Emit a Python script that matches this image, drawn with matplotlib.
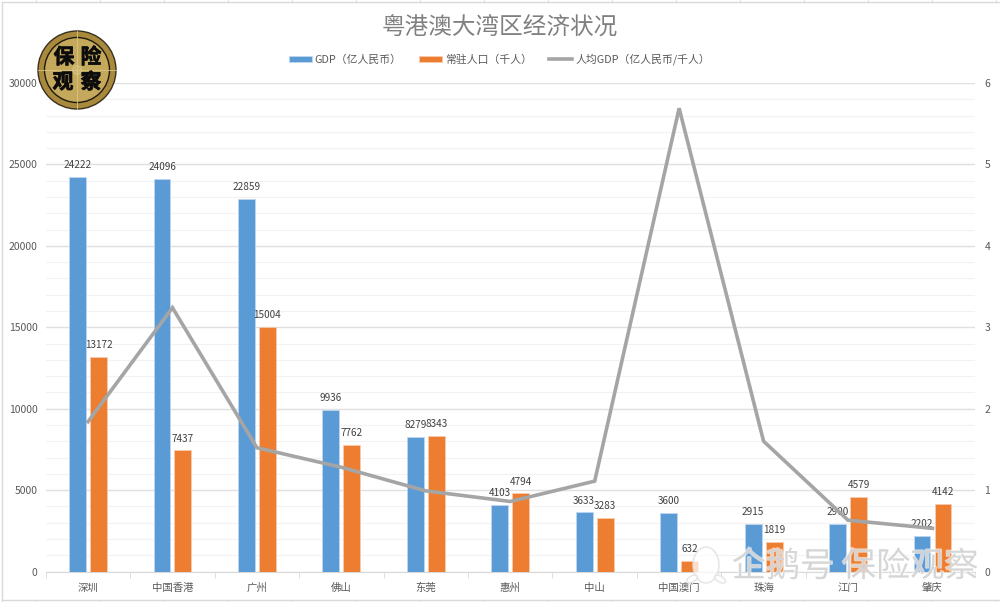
# -*- coding: utf-8 -*-
import numpy as np
import matplotlib
matplotlib.use("Agg")
import matplotlib.pyplot as plt
import matplotlib.patheffects as pe
from matplotlib.patches import Circle, Ellipse

plt.rcParams['font.family'] = ['Noto Sans CJK SC', 'DejaVu Sans']

cities = ['深圳', '中国香港', '广州', '佛山', '东莞', '惠州', '中山', '中国澳门', '珠海', '江门', '肇庆']
gdp = [24222, 24096, 22859, 9936, 8279, 4103, 3633, 3600, 2915, 2900, 2202]
population = [13172, 7437, 15004, 7762, 8343, 4794, 3283, 632, 1819, 4579, 4142]
gdp_per_person = [1.84, 3.24, 1.52, 1.28, 0.99, 0.86, 1.11, 5.69, 1.60, 0.63, 0.53]

W, H = 1000, 602
BLUE = '#5B9BD5'
ORANGE = '#ED7D31'
GREY = '#A5A5A5'
TXT = '#595959'

fig = plt.figure(figsize=(W / 100, H / 100), dpi=100, facecolor='white')

# plot area, in pixels of the picture
left, right, top, bottom = 45.8, 974.7, 83, 571.5
ax = fig.add_axes([left / W, 1 - bottom / H, (right - left) / W, (bottom - top) / H])
x = np.arange(len(cities))
w = 0.2
off = 0.124

ax.bar(x - off, gdp, w, color=BLUE, edgecolor='#BDD7EE', linewidth=0.6, label='GDP（亿人民币）', zorder=3)
ax.bar(x + off, population, w, color=ORANGE, edgecolor='#F8CBAD', linewidth=0.6, label='常驻人口（千人）', zorder=3)

ax.set_xlim(-0.5, len(cities) - 0.5)
ax.set_ylim(0, 30000)
ax.set_yticks(np.arange(0, 30001, 5000))
ax.set_yticks(np.arange(0, 30001, 1000), minor=True)
ax.set_xticks(x)
ax.set_xticklabels(cities)
ax.set_xticks(np.arange(-0.5, len(cities)), minor=True)
ax.grid(axis='y', which='major', color='#E0E0E0', linewidth=1, zorder=0)
ax.grid(axis='y', which='minor', color='#F2F2F2', linewidth=0.8, zorder=0)
ax.tick_params(axis='y', which='both', length=0, labelsize=7.5, labelcolor=TXT, pad=6)
ax.tick_params(axis='x', which='major', length=0, labelsize=7.5, labelcolor=TXT, pad=8)
ax.tick_params(axis='x', which='minor', length=4, color='#D9D9D9', direction='out')
for s in ['top', 'left', 'right']:
    ax.spines[s].set_visible(False)
ax.spines['bottom'].set_color('#D9D9D9')

for i in range(len(cities)):
    ax.text(x[i] - off, gdp[i] + 420, str(gdp[i]), ha='center', va='bottom', fontsize=7.2, color='#404040', zorder=6)
    ax.text(x[i] + off, population[i] + 420, str(population[i]), ha='center', va='bottom', fontsize=7.2, color='#404040', zorder=6)

ax2 = ax.twinx()
line, = ax2.plot(x, gdp_per_person, color=GREY, linewidth=2.6, label='人均GDP（亿人民币/千人）', solid_joinstyle='miter', zorder=5)
ax2.set_ylim(0, 6)
ax2.set_yticks(range(7))
ax2.tick_params(axis='y', length=0, labelsize=7.5, labelcolor=TXT, pad=7)
for s in ax2.spines.values():
    s.set_visible(False)

# keep labels over the line
ax.set_zorder(1)
ax2.set_zorder(2)
ax2.patch.set_visible(False)

handles = ax.get_legend_handles_labels()[0] + [line]
labels = ax.get_legend_handles_labels()[1] + [line.get_label()]
fig.legend(handles, labels, loc='center', bbox_to_anchor=(0.4995, 1 - 59.5 / H), ncol=3, frameon=False,
           fontsize=7.8, labelcolor=TXT, handlelength=2.1, handleheight=0.55, handletextpad=0.3, columnspacing=1.6)

fig.text(0.5, 1 - 28 / H, '粤港澳大湾区经济状况', ha='center', va='center', fontsize=17, color='#808080')

# overlay in pixel coordinates for frame, logo, watermark
ov = fig.add_axes([0, 0, 1, 1], zorder=10)
ov.set_xlim(0, W)
ov.set_ylim(H, 0)
ov.axis('off')
ov.patch.set_visible(False)

ov.plot([1.5, 1.5, W], [H, 1.5, 1.5], color='#D9D9D9', linewidth=1)
ov.plot([1.5, W], [600, 600], color='#D9D9D9', linewidth=1)
for tx in range(36, W, 64):
    ov.plot([tx, tx], [0, 1.5], color='#D9D9D9', linewidth=0.6)
    ov.plot([tx, tx], [600, H], color='#D9D9D9', linewidth=0.6)

# logo
ov.add_patch(Circle((77, 70), 39, facecolor='#A98A3C', edgecolor='#3A3020', linewidth=1))
ov.add_patch(Circle((77, 70), 32.5, facecolor='#C4A85C', edgecolor='#1E1A10', linewidth=1))
ov.plot([77, 77], [31, 109], color='#D8C483', linewidth=0.6)
ov.plot([38, 116], [70, 70], color='#D8C483', linewidth=0.6)
ov.add_patch(Circle((77, 70), 4.5, facecolor='#CDB56F', edgecolor='#D8C483', linewidth=0.6))
for tx, ty, s in [(64, 57, '保'), (91, 57, '险'), (63, 82, '观'), (91, 82, '察')]:
    ov.text(tx, ty, s, ha='center', va='center', fontsize=15, fontweight='bold', color='#0C0C0C',
            path_effects=[pe.withStroke(linewidth=0.5, foreground='#0C0C0C')])

# watermark
wm = dict(facecolor='#FFFFFF', edgecolor='#E0E0E0', linewidth=1.2, alpha=0.75)
ov.add_patch(Ellipse((706, 565), 26, 36, **wm))
ov.add_patch(Ellipse((692, 579), 12, 6, angle=-30, **wm))
ov.add_patch(Ellipse((720, 579), 12, 6, angle=30, **wm))
ov.text(855, 567, '企鹅号 保险观察', ha='center', va='center', fontsize=24.6, color='#D2D2D2', alpha=0.85,
        path_effects=[pe.withStroke(linewidth=1.5, foreground='#FFFFFF', alpha=0.6)])

fig.savefig('out.png', dpi=100, facecolor='white')
